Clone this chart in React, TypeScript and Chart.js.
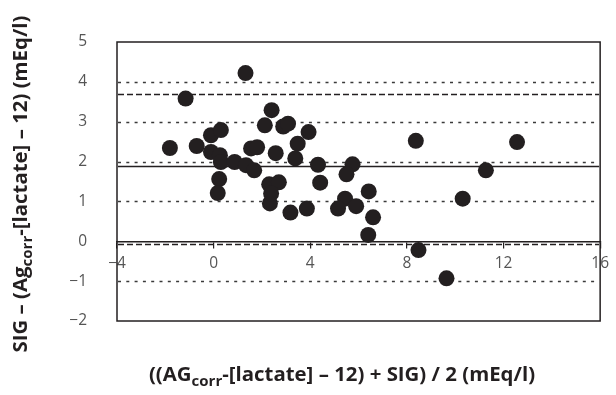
import React, { useEffect, useRef } from 'react';
import { Chart, registerables } from 'chart.js';

Chart.register(...registerables);

// Bland–Altman data (mean on x, difference on y), mEq/l
const meanValues = [
  1.32, -1.16, -1.81, -0.70, -0.11, 0.30, -0.11, 0.26, 0.30, 0.87, 1.34, 1.68,
  0.23, 0.17, 1.55, 1.80, 2.40, 2.12, 2.88, 3.08, 3.93, 3.48, 2.57, 3.38, 4.32,
  5.75, 5.50, 8.37, 12.56, 11.27, 10.31, 9.64, 8.48, 4.41, 2.30, 2.70, 2.33, 2.38,
  3.18, 3.86, 6.42, 5.44, 5.15, 5.90, 6.60, 6.40,
];
const differenceValues = [
  4.22, 3.58, 2.34, 2.39, 2.66, 2.79, 2.24, 2.16, 1.99, 1.99, 1.91, 1.78,
  1.56, 1.21, 2.33, 2.36, 3.29, 2.91, 2.88, 2.95, 2.74, 2.45, 2.21, 2.08, 1.92,
  1.93, 1.68, 2.52, 2.49, 1.78, 1.07, -0.93, -0.22, 1.47, 1.43, 1.48, 0.95, 1.20,
  0.72, 0.82, 1.25, 1.07, 0.82, 0.88, 0.60, 0.16,
];

const xTickValues = [-4, 0, 4, 8, 12, 16];
const yTickValues = [-2, -1, 0, 1, 2, 3, 4, 5];
const dottedLevels = [-1, 1, 2, 3, 4];
const meanDifference = 1.88;
const limitsOfAgreement = [3.69, -0.08];

const xTitleParts: [string, boolean][] = [
  ['((AG', false],
  ['corr', true],
  ['-[lactate] \u2013 12) + SIG) / 2 (mEq/l)', false],
];
const yTitleParts: [string, boolean][] = [
  ['SIG \u2013 (Ag', false],
  ['corr', true],
  ['-[lactate] \u2013 12) (mEq/l)', false],
];

const FONT = '"Open Sans", "Noto Sans", sans-serif';
const INK = '#231f20';

function drawRich(ctx: CanvasRenderingContext2D, parts: [string, boolean][], cx: number, baseline: number) {
  const mainFont = `bold 20.4px ${FONT}`;
  const subFont = `bold 15px ${FONT}`;
  let total = 0;
  const widths = parts.map(([t, sub]) => {
    ctx.font = sub ? subFont : mainFont;
    const w = ctx.measureText(t).width;
    total += w;
    return w;
  });
  let x = cx - total / 2;
  ctx.fillStyle = INK;
  ctx.textAlign = 'left';
  ctx.textBaseline = 'alphabetic';
  parts.forEach(([t, sub], i) => {
    ctx.font = sub ? subFont : mainFont;
    ctx.fillText(t, x, sub ? baseline + 5 : baseline);
    x += widths[i];
  });
}

const overlayPlugin = {
  id: 'overlayLines',
  beforeDatasetsDraw(chart: any) {
    const { ctx, chartArea: a, scales } = chart;
    const y = scales.y;
    const hline = (v: number) => {
      const py = Math.round(y.getPixelForValue(v)) + 0.5;
      ctx.beginPath();
      ctx.moveTo(a.left + 1, py);
      ctx.lineTo(a.right - 1, py);
      ctx.stroke();
    };
    ctx.save();
    ctx.strokeStyle = '#3a3a3a';
    ctx.lineWidth = 1.3;
    ctx.setLineDash([3, 5.3]);
    dottedLevels.forEach(hline);
    ctx.strokeStyle = INK;
    ctx.lineWidth = 1.5;
    ctx.setLineDash([6, 3]);
    limitsOfAgreement.forEach(hline);
    ctx.setLineDash([]);
    hline(meanDifference);
    // plot frame
    ctx.lineWidth = 1.5;
    ctx.strokeStyle = INK;
    ctx.strokeRect(a.left, a.top, a.right - a.left, a.bottom - a.top);
    ctx.restore();
  },
  afterDraw(chart: any) {
    const { ctx } = chart;
    ctx.save();
    drawRich(ctx, xTitleParts, 342, 381);
    ctx.translate(27, 184);
    ctx.rotate(-Math.PI / 2);
    drawRich(ctx, yTitleParts, 0, 0);
    ctx.restore();
  },
};

export default function App() {
  const ref = useRef<HTMLCanvasElement | null>(null);
  useEffect(() => {
    if (!ref.current) return;
    const chart = new Chart(ref.current, {
      type: 'scatter',
      data: {
        datasets: [
          {
            data: meanValues.map((m, i) => ({ x: m, y: differenceValues[i] })),
            backgroundColor: INK,
            borderColor: INK,
            pointRadius: 8,
            pointHoverRadius: 8,
            borderWidth: 0,
          },
        ],
      },
      options: {
        animation: false,
        responsive: false,
        events: [],
        layout: { padding: { left: 0, top: 42, right: 8, bottom: 74 } },
        plugins: { legend: { display: false }, tooltip: { enabled: false } },
        scales: {
          x: {
            type: 'linear',
            position: { y: 0 } as any,
            min: -4,
            max: 16,
            afterBuildTicks: (s: any) => {
              s.ticks = xTickValues.map((v) => ({ value: v }));
            },
            grid: { display: true, drawOnChartArea: false, drawTicks: true, tickLength: 6, color: INK, lineWidth: 1.2 },
            border: { display: true, color: INK, width: 1.5 },
            ticks: {
              padding: 7,
              color: '#555555',
              font: { family: FONT, size: 15.5 },
              maxRotation: 0,
              callback: (v: any) => String(v).replace('-', '\u2212'),
            },
          },
          y: {
            type: 'linear',
            position: 'left',
            min: -2,
            max: 5,
            afterBuildTicks: (s: any) => {
              s.ticks = yTickValues.map((v) => ({ value: v }));
            },
            afterFit: (s: any) => {
              s.width = 117;
            },
            grid: { display: false },
            border: { display: false },
            ticks: {
              padding: 22,
              color: '#555555',
              font: { family: FONT, size: 15.5 },
              callback: (v: any) => String(v).replace('-', '\u2212'),
            },
          },
        },
      },
      plugins: [overlayPlugin],
    });
    return () => chart.destroy();
  }, []);
  return (
    <canvas
      ref={ref}
      width={616}
      height={395}
      style={{ position: 'absolute', left: 0, top: 0, display: 'block' }}
    />
  );
}
